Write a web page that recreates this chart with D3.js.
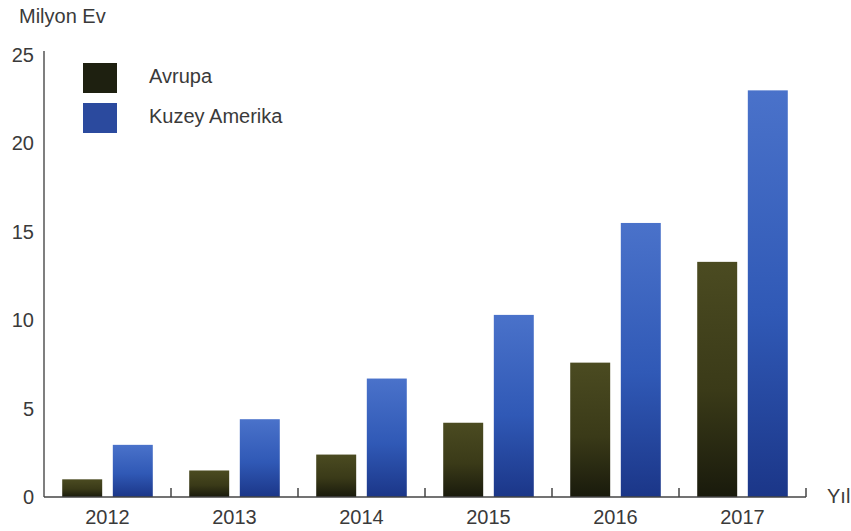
<!DOCTYPE html>
<html>
<head>
<meta charset="utf-8">
<script src="https://cdn.jsdelivr.net/npm/d3@7"></script>
<style>
  html, body { margin: 0; padding: 0; background: #fff; }
  svg { display: block; font-family: "Liberation Sans", Arial, sans-serif; }
</style>
</head>
<body>
<svg id="chart" width="851" height="531"></svg>
<script>
// Years on the x axis
const years = ["2012", "2013", "2014", "2015", "2016", "2017"];
// Series names
const seriesNames = ["Avrupa", "Kuzey Amerika"];
// Millions of homes per year
const avrupa = [1.0, 1.5, 2.4, 4.2, 7.6, 13.3];
const kuzeyAmerika = [2.95, 4.4, 6.7, 10.3, 15.5, 23.0];
// Y tick values
const yTicks = [0, 5, 10, 15, 20, 25];

const svg = d3.select("#chart");
const plotLeft = 44, plotRight = 806, plotTop = 55, plotBottom = 497;
const textColor = "#3a3a3a";

const x0 = d3.scaleBand().domain(years).range([plotLeft, plotRight]).paddingInner(0).paddingOuter(0);
const x1 = d3.scaleBand().domain(seriesNames).range([0, x0.bandwidth()]).paddingInner(0.21).paddingOuter(0.36);
const y = d3.scaleLinear().domain([0, 25]).range([plotBottom, plotTop]);

// Vertical gradients for bars
const defs = svg.append("defs");
function grad(id, stops) {
  const g = defs.append("linearGradient").attr("id", id)
    .attr("x1", 0).attr("y1", 0).attr("x2", 0).attr("y2", 1);
  stops.forEach(([o, c]) => g.append("stop").attr("offset", o).attr("stop-color", c));
}
grad("gAvrupa", [["0%", "#4b4b21"], ["55%", "#3a3a18"], ["100%", "#191a0c"]]);
grad("gKuzey", [["0%", "#4a72ca"], ["55%", "#3059b6"], ["100%", "#1b3688"]]);
const fills = { "Avrupa": "url(#gAvrupa)", "Kuzey Amerika": "url(#gKuzey)" };
const swatch = { "Avrupa": "#1e2010", "Kuzey Amerika": "#2b4a9e" };

const rows = years.map((yr, i) => ({ year: yr, values: [
  { key: "Avrupa", value: avrupa[i] },
  { key: "Kuzey Amerika", value: kuzeyAmerika[i] }
]}));

// Bars
const groups = svg.append("g").selectAll("g").data(rows).join("g")
  .attr("transform", d => `translate(${x0(d.year)},0)`);
groups.selectAll("rect").data(d => d.values).join("rect")
  .attr("x", d => x1(d.key))
  .attr("width", x1.bandwidth())
  .attr("y", d => y(d.value))
  .attr("height", d => y(0) - y(d.value))
  .attr("fill", d => fills[d.key]);

// Y axis: line with labels, no tick marks
const yAxis = d3.axisLeft(y).tickValues(yTicks).tickSize(0).tickPadding(10);
const yg = svg.append("g").attr("transform", `translate(${plotLeft},0)`).call(yAxis);
yg.select(".domain").attr("stroke", "#555").attr("stroke-width", 1.5).attr("d", `M0,${plotBottom}V${plotTop - 4}`);
yg.selectAll("text").attr("font-size", 20).attr("fill", textColor).attr("font-family", "'Liberation Sans', Arial, sans-serif");

// X axis: baseline with small upward ticks at group boundaries
const xg = svg.append("g").attr("transform", `translate(0,${plotBottom})`);
xg.append("line").attr("x1", plotLeft).attr("x2", plotRight).attr("stroke", "#444").attr("stroke-width", 1.5);
xg.selectAll("line.tick").data(years).join("line").attr("class", "tick")
  .attr("x1", d => x0(d) + x0.bandwidth()).attr("x2", d => x0(d) + x0.bandwidth())
  .attr("y1", 0).attr("y2", -9).attr("stroke", "#444").attr("stroke-width", 1.5);
xg.selectAll("text").data(years).join("text")
  .attr("x", d => x0(d) + x0.bandwidth() / 2)
  .attr("y", 27)
  .attr("text-anchor", "middle")
  .attr("font-size", 20).attr("fill", textColor)
  .text(d => d);

// Axis titles
svg.append("text").attr("x", 19).attr("y", 23).attr("font-size", 20).attr("fill", textColor).text("Milyon Ev");
svg.append("text").attr("x", 827).attr("y", 503).attr("font-size", 20).attr("fill", textColor).text("Yıl");

// Legend
const legend = svg.append("g").selectAll("g").data(seriesNames).join("g")
  .attr("transform", (d, i) => `translate(83,${63 + i * 40})`);
legend.append("rect").attr("width", 34).attr("height", 30).attr("fill", d => swatch[d]);
legend.append("text").attr("x", 66).attr("y", 20).attr("font-size", 20).attr("fill", textColor).text(d => d);
</script>
</body>
</html>
